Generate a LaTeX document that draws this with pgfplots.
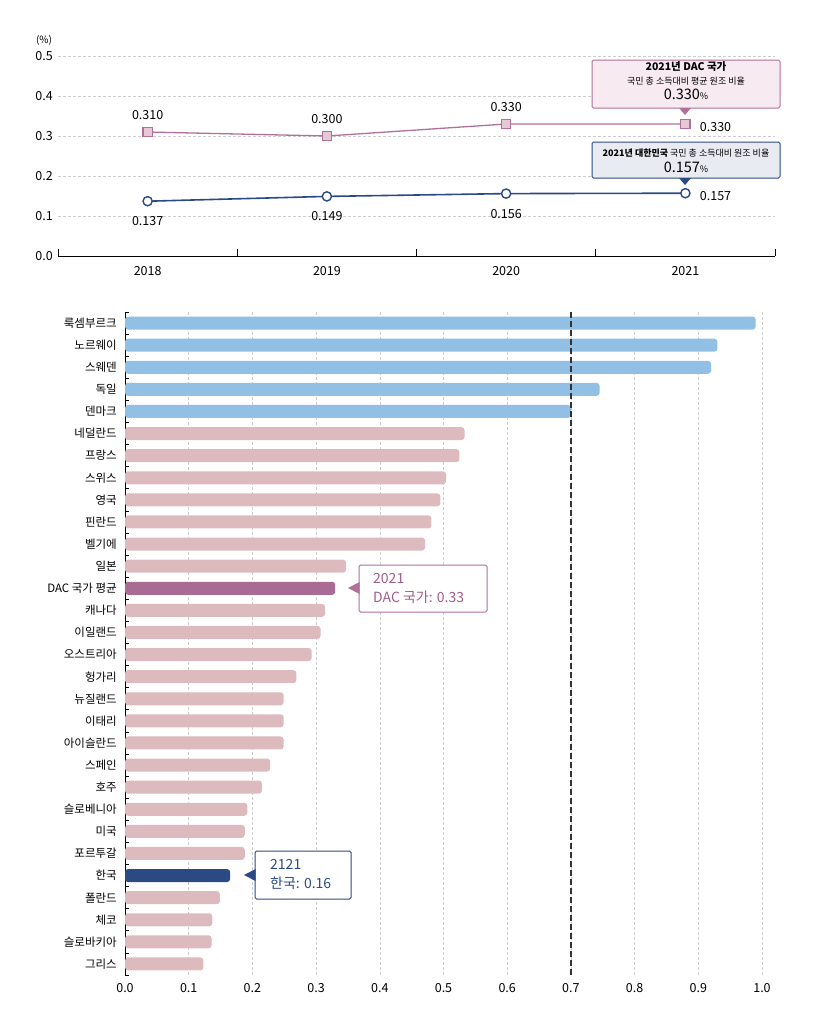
\documentclass[border=0pt]{standalone}
\usepackage{fontspec}
\setmainfont{Noto Sans CJK KR}
\usepackage{pgfplots}
\pgfplotsset{compat=1.18}
\definecolor{dacline}{HTML}{B0709A}
\definecolor{dacfill}{HTML}{E6C9D6}
\definecolor{kor}{HTML}{2B4A84}
\definecolor{barblue}{HTML}{92BFE4}
\definecolor{barpink}{HTML}{DDBABD}
\definecolor{barmauve}{HTML}{A96B94}
\definecolor{gridc}{HTML}{CCCCCC}
\definecolor{boxpink}{HTML}{F7EAF0}
\definecolor{boxblue}{HTML}{E8ECF2}
\definecolor{dactext}{HTML}{A35C8B}
\newcommand{\fs}[1]{\fontsize{#1}{#1}\selectfont}
\begin{document}
\begin{tikzpicture}[x=1pt,y=1pt]
\useasboundingbox (0,0) rectangle (815,-1009);
% ---------------- top line chart ----------------
\begin{axis}[
  at={(58pt,-256pt)}, anchor=south west,
  scale only axis, width=717pt, height=200pt,
  xmin=-0.5, xmax=3.5, ymin=0, ymax=0.5,
  axis x line*=bottom, axis y line*=left,
  y axis line style={draw=none},
  x axis line style={black, line width=0.8pt, -},
  xtick={0,1,2,3}, xticklabels={2018,2019,2020,2021},
  minor xtick={-0.5,0.5,1.5,2.5,3.5},
  major x tick style={draw=none},
  minor x tick style={black, line width=0.8pt},
  minor tick length=7pt, tick align=inside,
  ytick={0,0.1,0.2,0.3,0.4,0.5},
  major y tick style={draw=none},
  ymajorgrids, grid style={gridc, dash pattern=on 3pt off 2pt, line width=0.6pt},
  /pgf/number format/assume math mode=true,
  yticklabel style={/pgf/number format/.cd, fixed, fixed zerofill, precision=1, /tikz/.cd, font=\fs{12.5}, inner sep=0pt, xshift=-5pt},
  xticklabel style={font=\fs{12.5}, inner sep=0pt, yshift=-10pt},
  clip=false,
]
\addplot[dacline, line width=1.3pt, mark=square*, mark size=4.6pt,
  mark options={fill=dacfill, draw=dacline, line width=1.2pt}]
  coordinates {(0,0.310) (1,0.300) (2,0.330) (3,0.330)};
\addplot[kor, line width=1.6pt, mark=*, mark size=4.6pt,
  mark options={fill=white, draw=kor, line width=1.4pt}]
  coordinates {(0,0.137) (1,0.149) (2,0.156) (3,0.157)};
\node[font=\fs{12.5}] at (axis cs:0,0.310) [yshift=17pt] {0.310};
\node[font=\fs{12.5}] at (axis cs:1,0.300) [yshift=17pt] {0.300};
\node[font=\fs{12.5}] at (axis cs:2,0.330) [yshift=17pt] {0.330};
\node[font=\fs{12.5}, anchor=west] at (axis cs:3,0.330) [xshift=11pt,yshift=-3pt] {0.330};
\node[font=\fs{12.5}] at (axis cs:0,0.137) [yshift=-20pt] {0.137};
\node[font=\fs{12.5}] at (axis cs:1,0.149) [yshift=-20pt] {0.149};
\node[font=\fs{12.5}] at (axis cs:2,0.156) [yshift=-20pt] {0.156};
\node[font=\fs{12.5}, anchor=west] at (axis cs:3,0.157) [xshift=11pt,yshift=-3pt] {0.157};
\end{axis}
\node[font=\fs{10}] at (44,-40) {(\%)};
% top callouts
\draw[dacline, fill=boxpink, line width=1pt, rounded corners=1.5pt] (592,-60) rectangle (780,-108);
\fill[dacline] (679,-108) -- (691,-108) -- (685,-115) -- cycle;
\node[font=\fs{10.5}\bfseries] at (686,-67) {2021년 DAC 국가};
\node[font=\fs{9}] at (686,-81) {국민 총 소득대비 평균 원조 비율};
\node[font=\fs{14.5}] at (686,-94) {0.330{\fs{9}\%}};
\draw[kor, fill=boxblue, line width=1pt, rounded corners=1.5pt] (592,-142) rectangle (780,-178);
\fill[kor] (679,-178) -- (691,-178) -- (685,-185) -- cycle;
\node[font=\fs{9}] at (686,-153) {{\bfseries 2021년 대한민국} 국민 총 소득대비 원조 비율};
\node[font=\fs{14.5}] at (686,-167) {0.157{\fs{9}\%}};
% ---------------- bottom bar chart ----------------
\begin{axis}[
  at={(125pt,-975pt)}, anchor=south west,
  scale only axis, width=637pt, height=663pt,
  xmin=0, xmax=1, ymin=-0.5, ymax=29.5, y dir=reverse,
  axis x line*=bottom, axis y line*=left,
  x axis line style={draw=none},
  y axis line style={black, line width=0.8pt, -},
  xtick={0,0.1,0.2,0.3,0.4,0.5,0.6,0.7,0.8,0.9,1.0},
  major x tick style={draw=none},
  xmajorgrids, grid style={gridc, dash pattern=on 3pt off 2pt, line width=0.6pt},
  ytick={0,...,29},
  yticklabels={룩셈부르크,노르웨이,스웨덴,독일,덴마크,네덜란드,프랑스,스위스,영국,핀란드,벨기에,일본,DAC 국가 평균,캐나다,이일랜드,오스트리아,헝가리,뉴질랜드,이태리,아이슬란드,스페인,호주,슬로베니아,미국,포르투갈,한국,폴란드,체코,슬로바키아,그리스},
  major y tick style={draw=none},
  minor ytick={-0.5,0.5,...,29.5},
  minor y tick style={black, line width=0.8pt},
  minor tick length=4pt, tick align=inside,
  /pgf/number format/assume math mode=true,
  xticklabel style={/pgf/number format/.cd, fixed, fixed zerofill, precision=1, /tikz/.cd, font=\fs{12.5}, inner sep=0pt, yshift=-8pt},
  yticklabel style={font=\fs{11.5}, inner sep=0pt, xshift=-8pt},
  mybar/.style={xbar, bar width=13pt, bar shift=0pt, draw=none, rounded corners=3pt},
]
\addplot[mybar, fill=barblue] coordinates {(0.99,0) (0.93,1) (0.92,2) (0.745,3) (0.70,4)};
\addplot[mybar, fill=barpink] coordinates {(0.533,5) (0.525,6) (0.504,7) (0.495,8) (0.481,9) (0.471,10) (0.347,11)
  (0.314,13) (0.307,14) (0.293,15) (0.269,16) (0.249,17) (0.249,18) (0.249,19) (0.228,20) (0.215,21)
  (0.192,22) (0.188,23) (0.188,24) (0.149,26) (0.137,27) (0.136,28) (0.123,29)};
\addplot[mybar, fill=barmauve] coordinates {(0.330,12)};
\addplot[mybar, fill=kor] coordinates {(0.165,25)};
\addplot[sharp plot, black!80, line width=1.4pt, dash pattern=on 6pt off 3pt] coordinates {(0.7,-0.5) (0.7,29.5)};
\end{axis}
% bottom callouts
\draw[dacline, fill=white, line width=1pt, rounded corners=1.5pt] (359,-565) rectangle (487,-612);
\fill[dacline] (359.5,-582) -- (359.5,-594) -- (348,-588) -- cycle;
\node[font=\fs{14}, text=dactext, anchor=west, inner sep=0pt] at (373,-579) {2021};
\node[font=\fs{14}, text=dactext, anchor=west, inner sep=0pt] at (373,-597) {DAC 국가: 0.33};
\draw[kor, fill=white, line width=1pt, rounded corners=1.5pt] (255,-851) rectangle (351,-899);
\fill[kor] (255.5,-869) -- (255.5,-881) -- (244,-875) -- cycle;
\node[font=\fs{14}, text=kor, anchor=west, inner sep=0pt] at (270,-864) {2121};
\node[font=\fs{14}, text=kor, anchor=west, inner sep=0pt] at (270,-883) {한국: 0.16};
\end{tikzpicture}
\end{document}
